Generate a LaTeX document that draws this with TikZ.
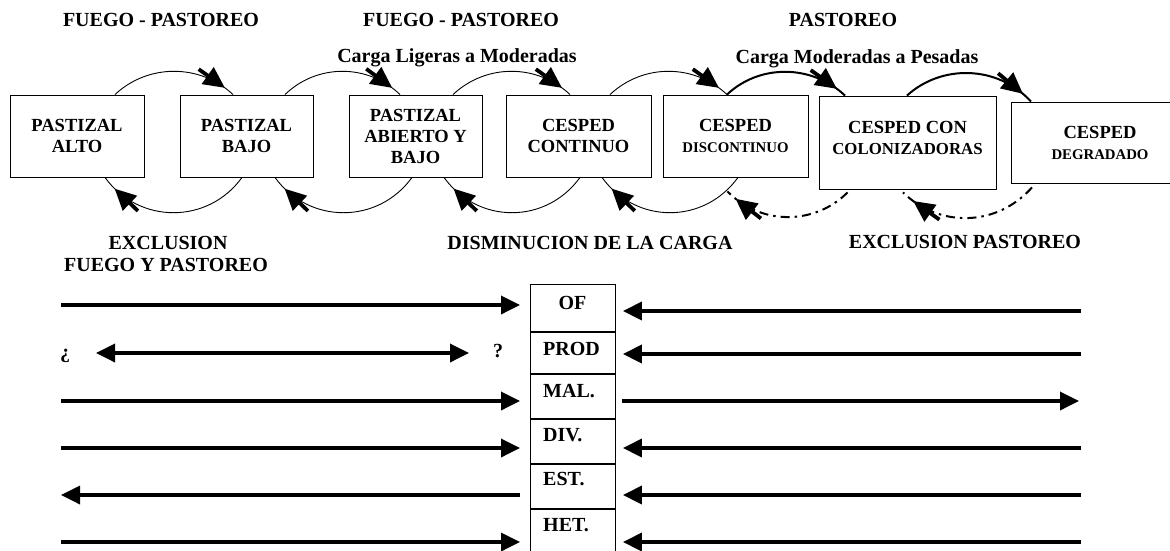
\documentclass[tikz,border=0pt]{standalone}
\usepackage{fontspec}
\setmainfont{Liberation Serif}
\usetikzlibrary{arrows.meta,decorations.markings,calc}
\begin{document}
\begin{tikzpicture}[x=1pt,y=-1pt,
  >={Triangle[length=19pt,width=18pt]},
  box/.style={draw, line width=0.9pt, inner sep=0pt, align=center,
    font=\fontsize{18.5}{21}\selectfont\bfseries},
  boxtext/.style={inner sep=0pt, align=center, font=\fontsize{18.5}{21}\selectfont\bfseries},
  lbl/.style={inner sep=0pt, anchor=base, font=\fontsize{20}{23}\selectfont\bfseries},
  cell/.style={draw, line width=0.9pt, minimum width=85pt, inner sep=0pt, anchor=north west},
  celltxt/.style={inner sep=0pt, font=\fontsize{20}{23}\selectfont\bfseries},
  bigarrow/.style={line width=3.5pt},
  thinarc/.style={line width=0.9pt},
  thickarc/.style={line width=2pt},
  dashdotarc/.style={line width=2pt, dash pattern=on 9pt off 5pt on 2.5pt off 5pt},
  arcmark/.style={postaction={decorate}, decoration={markings,
    mark=at position #1 with {\fill (1pt,0) -- (-20pt,10.5pt) -- (-20pt,-10.5pt) -- cycle;
      \draw[solid, line width=3.8pt] (-19pt,0) -- (-31pt,0);}}},
  arcmark/.default=0.91
]
\useasboundingbox (0,0) rectangle (1170,550);

% top labels
\node[lbl] (l1) at (161,26.7) {FUEGO - PASTOREO};
\node[lbl] (l2) at (461,26.7) {FUEGO - PASTOREO};
\node[lbl] (l3) at (457,62) {Carga Ligeras a Moderadas};
\node[lbl] (l4) at (843,26.7) {PASTOREO};
\node[lbl] (l5) at (857,63) {Carga Moderadas a Pesadas};
% bottom labels
\node[lbl] (l6) at (168,249.5) {EXCLUSION};
\node[lbl] (l7) at (166,271.5) {FUEGO Y PASTOREO};
\node[lbl] (l8) at (590,249.5) {DISMINUCION DE LA CARGA};
\node[lbl] (l9) at (965,248.5) {EXCLUSION PASTOREO};

% state boxes
\node[box, minimum width=134pt, minimum height=82pt] (alto) at (77,136) {PASTIZAL\\ALTO};
\node[box, minimum width=133pt, minimum height=82pt] (bajo) at (246.5,136) {PASTIZAL\\BAJO};
\node[box, minimum width=133pt, minimum height=82pt] (abierto) at (415.5,136) {PASTIZAL\\ABIERTO Y\\BAJO};
\node[box, minimum width=145pt, minimum height=82pt] (cont) at (578.5,136) {CESPED\\CONTINUO};
\node[box, minimum width=145pt, minimum height=82pt] (disc) at (735.5,136) {CESPED\\{\fontsize{14.8}{17}\selectfont DISCONTINUO}};
\node[box, minimum width=177pt, minimum height=93pt] (colon) at (907.5,142.5) {};
\node[boxtext] (colontxt) at (907.5,137.5) {CESPED CON\\{\fontsize{16.8}{19}\selectfont COLONIZADORAS}};
\node[box, minimum width=178pt, minimum height=81pt] (degr) at (1100,142.5) {CESPED\\{\fontsize{14.8}{17}\selectfont DEGRADADO}};

% top arcs
\draw[thinarc, arcmark] ([xshift=38pt]alto.north) .. controls +(33,-31) and +(-33,-31) .. ([xshift=-13.5pt]bajo.north);
\draw[thinarc, arcmark] ([xshift=38.5pt]bajo.north) .. controls +(32,-31) and +(-32,-31) .. ([xshift=-15.5pt]abierto.north);
\draw[thinarc, arcmark] ([xshift=37.5pt]abierto.north) .. controls +(33,-31) and +(-33,-31) .. ([xshift=-8.5pt]cont.north);
\draw[thinarc, arcmark] ([xshift=31.5pt]cont.north) .. controls +(33,-31) and +(-33,-31) .. ([xshift=-8.5pt]disc.north);
\draw[thickarc, arcmark] ([xshift=-8.5pt]disc.north) .. controls +(33,-31) and +(-33,-31) .. ([xshift=-62.5pt]colon.north);
\draw[thickarc, arcmark] ([xshift=-0.5pt]colon.north) .. controls +(34,-31) and +(-34,-37) .. ([xshift=-69pt]degr.north);

% bottom arcs
\draw[thinarc, arcmark=0.9] ([xshift=-4.5pt]bajo.south) .. controls +(-34,47) and +(34,47) .. ([xshift=28pt]alto.south);
\draw[thinarc, arcmark=0.9] ([xshift=-3.5pt]abierto.south) .. controls +(-34,47) and +(34,47) .. ([xshift=28.5pt]bajo.south);
\draw[thinarc, arcmark=0.9] ([xshift=1.5pt]cont.south) .. controls +(-34,47) and +(34,47) .. ([xshift=28.5pt]abierto.south);
\draw[thinarc, arcmark=0.9] ([xshift=2.5pt]disc.south) .. controls +(-34,47) and +(34,47) .. ([xshift=23.5pt]cont.south);
\draw[dashdotarc, arcmark=0.91] ([xshift=-60pt,yshift=-3pt]colon.south) .. controls +(-33,33) and +(33,34) .. ([xshift=-8pt,yshift=-14pt]disc.south);
\draw[dashdotarc, arcmark=0.9] ([xshift=-68pt,yshift=-4pt]degr.south) .. controls +(-36,40) and +(36,35) .. ([xshift=-4.5pt,yshift=-3pt]colon.south);

% table
\node[cell, minimum height=47pt] (of) at (530,284) {};
\node[cell, minimum height=41pt] (prod) at (of.south west) {};
\node[cell, minimum height=44pt] (mal) at (prod.south west) {};
\node[cell, minimum height=44pt] (div) at (mal.south west) {};
\node[cell, minimum height=44pt] (est) at (div.south west) {};
\node[cell, minimum height=62pt] (het) at (est.south west) {};
\node[celltxt, anchor=base] (oft) at (572.5,309) {OF};
\node[celltxt, anchor=base west] (prodt) at (543,355) {PROD};
\node[celltxt, anchor=base west] (malt) at (543,397) {MAL.};
\node[celltxt, anchor=base west] (divt) at (543,441.7) {DIV.};
\node[celltxt, anchor=base west] (estt) at (543,485.7) {EST.};
\node[celltxt, anchor=base west] (hett) at (543,531) {HET.};

% question marks
\node[celltxt, anchor=base] (inv) at (65,358) {¿};
\node[celltxt, anchor=base] (qm) at (498,357) {?};

% left row coordinates
\coordinate (a1) at (61,305);
\coordinate (a2l) at (96,353);
\coordinate (a2r) at (469,353);
\coordinate (a3) at (61,401);
\coordinate (a4) at (61,448);
\coordinate (a5) at (61,495);
\coordinate (a6) at (61,542);
% right row coordinates
\coordinate (b1) at (1081,311);
\coordinate (b2) at (1081,354);
\coordinate (b3) at (1079,401);
\coordinate (b4) at (1081,448);
\coordinate (b5) at (1081,495);
\coordinate (b6) at (1081,542);

% left arrows
\draw[bigarrow, ->, shorten >=10pt] (a1) -- (a1 -| of.west);
\draw[bigarrow, <->] (a2l) -- (a2r);
\draw[bigarrow, ->, shorten >=10pt] (a3) -- (a3 -| mal.west);
\draw[bigarrow, ->, shorten >=10pt] (a4) -- (a4 -| div.west);
\draw[bigarrow, ->, shorten <=10pt] (a5 -| est.west) -- (a5);
\draw[bigarrow, ->, shorten >=10pt] (a6) -- (a6 -| het.west);
% right arrows
\draw[bigarrow, ->, shorten >=7pt] (b1) -- (b1 -| of.east);
\draw[bigarrow, ->, shorten >=7pt] (b2) -- (b2 -| prod.east);
\draw[bigarrow, ->, shorten <=6pt] (b3 -| mal.east) -- (b3);
\draw[bigarrow, ->, shorten >=7pt] (b4) -- (b4 -| div.east);
\draw[bigarrow, ->, shorten >=7pt] (b5) -- (b5 -| est.east);
\draw[bigarrow, ->, shorten >=7pt] (b6) -- (b6 -| het.east);
\end{tikzpicture}
\end{document}
